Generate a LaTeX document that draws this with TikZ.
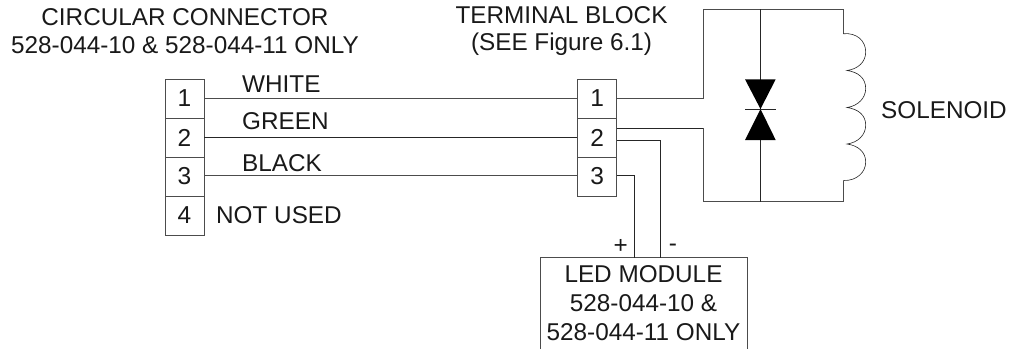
\documentclass[tikz,border=0pt]{standalone}
\usepackage{fontspec}
\setmainfont{Liberation Sans}
\begin{document}
\begin{tikzpicture}[x=1pt,y=-1pt,
  wire/.style={draw=black!70,line width=0.8pt},
  thin wire/.style={draw=black!85,line width=0.6pt},
  lab/.style={inner sep=0pt,font=\fontsize{24.3}{27.5}\selectfont,text=black!90},
  pin/.style={draw=black!70,line width=0.8pt,minimum width=39pt,minimum height=39pt,inner sep=0pt,font=\fontsize{24.5}{24.5}\selectfont,text=black!90}]
\useasboundingbox (0,0) rectangle (1009,349);
\node[pin] (c1) at (184.5,98.5) {1};
\node[pin] (c2) at (184.5,137.5) {2};
\node[pin] (c3) at (184.5,176.5) {3};
\node[pin] (c4) at (184.5,215.5) {4};
\node[pin] (t1) at (597.2,98.5) {1};
\node[pin] (t2) at (597.2,137.5) {2};
\node[pin] (t3) at (597.2,176.5) {3};
\draw[wire] (c1.east |- 0,98.5) -- (t1.west |- 0,98.5);
\draw[thin wire] (c2.east |- 0,137.3) -- (t2.west |- 0,137.3);
\draw[wire] (c3.east |- 0,175.7) -- (t3.west |- 0,175.7);
\node[lab,anchor=west] (lw) at (242,84.5) {WHITE};
\node[lab,anchor=west] (lg) at (242,121.5) {GREEN};
\node[lab,anchor=west] (lb) at (242,163.5) {BLACK};
\node[lab,anchor=west] (ln) at (216,215) {NOT USED};
\node[lab,align=center] (tc) at (185,31) {CIRCULAR CONNECTOR\\528-044-10 \& 528-044-11 ONLY};
\node[lab,align=center] (tt) at (561.5,31) {TERMINAL BLOCK\\(SEE Figure 6.1)};
\node[lab,anchor=west] (sol) at (881,110.5) {SOLENOID};
% LED module
\coordinate (mtl) at (540.7,257.7);
\coordinate (mtr) at (747.3,257.7);
\coordinate (mbl) at (540.7,348.5);
\coordinate (mbr) at (747.3,348.5);
\draw[wire] (mbl) -- (mtl) -- (mtr) -- (mbr);
\node[lab,align=center,font=\fontsize{24.3}{29}\selectfont] (mt) at (643.5,303) {LED MODULE\\528-044-10 \&\\528-044-11 ONLY};
\node[lab] (pl) at (620.7,246) {+};
\node[lab] (mi) at (673,248) {-};
\coordinate (p3) at (634.7,257.7);
\coordinate (p2) at (660.3,257.7);
\draw[thin wire] (t3.east |- 0,175.7) -| (p3);
\draw[thin wire] (t2.east |- 0,140.3) -| (p2);
% Solenoid frame
\coordinate (fa) at (703.3,9);
\coordinate (fb) at (843.3,9);
\coordinate (fc) at (703.6,128.3);
\coordinate (fd) at (843.3,201.7);
\coordinate (fe) at (703.6,201.7);
\draw[wire] (t1.east |- 0,98.5) -| (fa) -- (fb) -- (843.3,33.7);
\draw[thin wire] (t2.east |- 0,128.3) -- (fc);
\draw[wire] (fc) -- (fe) -- (fd) -- (843.3,180.5);
\draw[thin wire] (843.3,33.7) .. controls (857,32.5) and (865.7,41) .. (865.7,52) .. controls (865.7,62) and (858,69) .. (847,70.5)
  .. controls (858,72) and (865.7,78) .. (865.7,88.5) .. controls (865.7,98) and (858,106) .. (847,107.5)
  .. controls (858,109) and (865.7,115) .. (865.7,125) .. controls (865.7,135) and (858,142.5) .. (847,144)
  .. controls (858,145.5) and (865.7,152) .. (865.7,162) .. controls (865.7,172) and (857,181) .. (843.3,180.5);
\coordinate (da) at (760.5,9);
\coordinate (db) at (760.5,201.7);
\draw[thin wire] (da) -- (db);
\fill (745,79.3) -- (775.7,79.3) -- (760.5,109) -- cycle;
\fill (745,140) -- (775.7,140) -- (760.5,109) -- cycle;
\draw[thin wire] (745,109) -- (775.7,109);
\end{tikzpicture}
\end{document}
